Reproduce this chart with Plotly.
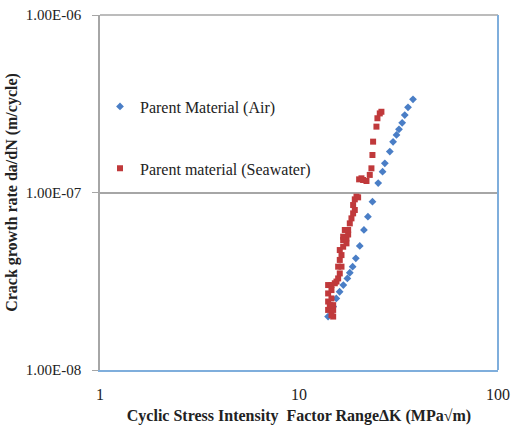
import plotly.graph_objects as go

# Parent material in air
air_dk = [14.0, 14.85, 15.4, 16.0, 16.7, 17.5, 18.0, 18.6, 19.3, 20.2, 21.2, 22.2,
          23.4, 25.0, 26.3, 27.0, 28.6, 29.7, 30.9, 31.8, 33.0, 34.0, 35.3, 37.4]
air_rate = [2.0e-8, 2.28e-8, 2.53e-8, 2.76e-8, 3.01e-8, 3.28e-8, 3.53e-8, 3.82e-8,
            4.26e-8, 5.0e-8, 6.15e-8, 7.31e-8, 8.88e-8, 1.13e-7, 1.31e-7, 1.46e-7,
            1.70e-7, 1.93e-7, 2.11e-7, 2.27e-7, 2.47e-7, 2.73e-7, 3.02e-7, 3.35e-7]

# Parent material in seawater
sea_dk = [14.85, 14.56, 14.01, 14.85, 14.28, 14.85, 14.01, 14.56, 14.01, 14.56,
          14.01, 14.56, 15.13, 15.43, 15.73, 16.03, 15.73, 16.35, 16.03, 16.35,
          16.03, 16.67, 17.32, 16.67, 17.32, 16.67, 17.66, 16.99, 17.66, 18.0,
          18.35, 18.71, 19.07, 18.71, 19.07, 19.45, 19.82, 20.05, 20.6, 21.0,
          21.83, 22.68, 23.12, 23.39, 23.57, 24.5, 24.78, 25.46, 25.95]
sea_rate = [2.0e-8, 2.04e-8, 2.18e-8, 2.18e-8, 2.32e-8, 2.32e-8, 2.43e-8, 2.53e-8,
            2.70e-8, 2.82e-8, 3.01e-8, 3.01e-8, 3.08e-8, 3.15e-8, 3.28e-8, 3.50e-8,
            3.82e-8, 3.82e-8, 4.17e-8, 4.44e-8, 4.74e-8, 4.95e-8, 5.17e-8, 5.40e-8,
            5.52e-8, 5.64e-8, 5.8e-8, 6.15e-8, 6.15e-8, 6.70e-8, 7.15e-8, 7.63e-8,
            7.97e-8, 8.50e-8, 9.15e-8, 9.47e-8, 9.39e-8, 1.186e-7, 1.202e-7, 1.176e-7,
            1.161e-7, 1.256e-7, 1.368e-7, 1.627e-7, 1.934e-7, 2.35e-7, 2.62e-7,
            2.79e-7, 2.85e-7]

y_tickvals = [1e-8, 1e-7, 1e-6]
y_ticktext = ["1.00E-08", "1.00E-07", "1.00E-06"]
x_tickvals = [1, 10, 100]
x_ticktext = ["1", "10", "100"]

serif = "Liberation Serif"
blue = "#4A7EC6"
red = "#C0393B"
txt = "#222222"

fig = go.Figure()
fig.add_trace(go.Scatter(
    x=air_dk, y=air_rate, mode="markers", name="Parent Material (Air)",
    legendgroup="a",
    marker=dict(symbol="diamond", size=6, color=blue)))
fig.add_trace(go.Scatter(
    x=sea_dk, y=sea_rate, mode="markers", name="Parent material (Seawater)",
    legendgroup="b",
    marker=dict(symbol="square", size=6, color=red)))

fig.update_layout(
    width=511, height=431,
    margin=dict(l=100, r=13, t=15, b=61, autoexpand=False),
    paper_bgcolor="white", plot_bgcolor="white",
    font=dict(family=serif, color=txt),
    showlegend=True,
    legend=dict(x=0.0, y=0.79, xanchor="left", yanchor="top",
                font=dict(family=serif, size=16, color=txt),
                tracegroupgap=38, traceorder="grouped",
                bgcolor="rgba(0,0,0,0)", itemwidth=30),
    xaxis=dict(type="log", range=[0, 2], tickvals=x_tickvals, ticktext=x_ticktext,
               automargin=False,
               showgrid=False, showline=True, linecolor="#7FAEDC", linewidth=2,
               ticks="", ticklabelstandoff=9,
               tickfont=dict(family=serif, size=16, color=txt),
               title=dict(text="<b>Cyclic Stress Intensity  Factor RangeΔK (MPa√m)</b>",
                          font=dict(family=serif, size=16, color=txt),
                          standoff=8)),
    yaxis=dict(type="log", range=[-8, -6], tickvals=y_tickvals, ticktext=y_ticktext,
               automargin=False,
               showgrid=True, gridcolor="#A6A6A6", gridwidth=1.5,
               showline=True, linecolor="#A6A6A6", linewidth=1.5,
               ticks="outside", ticklen=6, tickcolor="#A6A6A6",
               ticklabelstandoff=8,
               tickfont=dict(family=serif, size=15, color=txt),
               title=dict(text="<b>Crack growth rate da/dN (m/cycle)</b>",
                          font=dict(family=serif, size=16, color=txt),
                          standoff=4)),
    shapes=[
        dict(type="line", xref="paper", yref="paper", x0=0, x1=1, y0=1, y1=1,
             line=dict(color="#A6A6A6", width=1.5)),
        dict(type="line", xref="paper", yref="paper", x0=1, x1=1, y0=0, y1=1,
             line=dict(color="#7FAEDC", width=2)),
    ],
)

fig.write_html("out.html")
